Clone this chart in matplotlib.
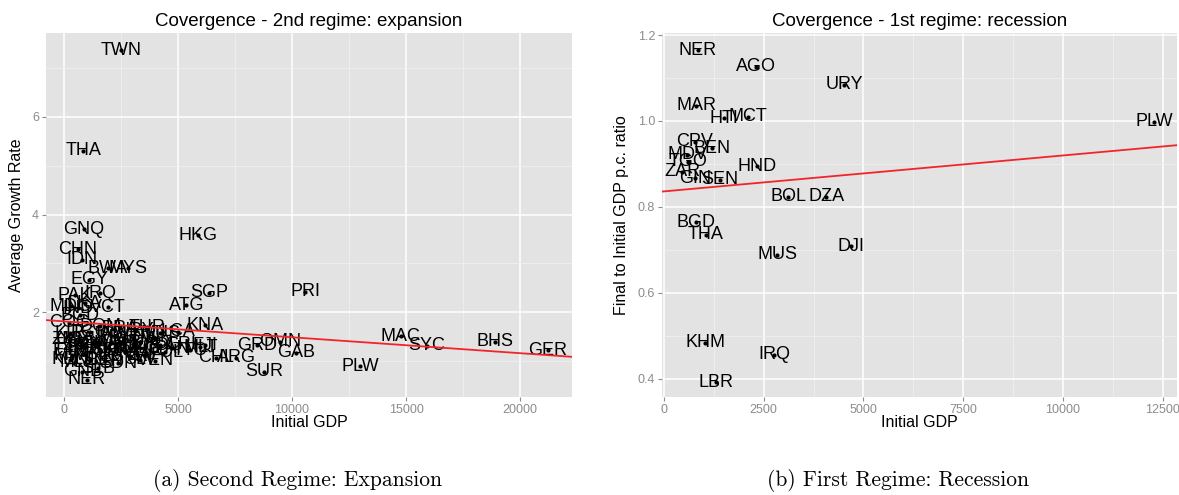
#!/usr/bin/env python3
# -*- coding: utf-8 -*-
"""
收敛性散点图：两个体制（扩张 / 衰退）并排，ggplot 风格
"""

import numpy as np
import matplotlib
matplotlib.use("Agg")
import matplotlib.pyplot as plt
from matplotlib.ticker import FixedLocator, FixedFormatter

plt.rcParams["font.family"] = ["Liberation Sans", "DejaVu Sans"]

# ---------------- 数据：第二体制（扩张） ----------------
exp_codes = [
    "TWN", "THA", "GNQ", "HKG", "CHN", "IDN", "BWA", "MYS", "EGY", "PAK",
    "IRQ", "SGP", "ATG", "PRI", "MDG", "IND", "VCT", "LKA", "BGD", "COG",
    "KIR", "TUR", "BRA", "URY", "DOM", "TGO", "LCA", "KNA", "JAM", "MUS",
    "TZA", "UGA", "ETH", "BFA", "MWI", "NPL", "GHA", "SEN", "CMR", "BOL",
    "PER", "ECU", "COL", "PAN", "CRI", "TTO", "MLT", "FJI", "POL", "ZAF",
    "PRY", "HND", "GTM", "NIC", "PHL", "SYR", "MAR", "TUN", "JOR", "GUY",
    "ZMB", "KEN", "MLI", "LSO", "BEN", "SDN", "SLV", "VEN", "GNB", "SLB",
    "NER", "CHL", "ARG", "GRD", "OMN", "GAB", "SUR", "PLW", "MAC", "SYC",
    "BHS", "GER",
]
exp_gdp = [
    2500, 840, 880, 5890, 615, 790, 1930, 2810, 1100, 480,
    1580, 6370, 5360, 10590, 300, 615, 1930, 920, 700, 240,
    260, 3650, 2460, 3120, 1580, 1140, 5010, 6200, 2020, 4220,
    250, 480, 280, 920, 350, 1140, 1580, 2020, 2460, 2900,
    3340, 3780, 4220, 4745, 5100, 5540, 5980, 6200, 4440, 3560,
    2680, 2240, 3120, 1800, 1360, 2900, 2370, 4000, 3560, 790,
    260, 250, 480, 1140, 1800, 2370, 3340, 4000, 800, 1500,
    1010, 6650, 7550, 8480, 9490, 10190, 8790, 13000, 14760, 15910,
    18890, 21230,
]
exp_growth = [
    7.37, 5.31, 3.70, 3.58, 3.29, 3.07, 2.90, 2.90, 2.66, 2.35,
    2.39, 2.40, 2.14, 2.42, 2.12, 2.08, 2.10, 2.18, 1.94, 1.78,
    1.57, 1.69, 1.67, 1.63, 1.71, 1.59, 1.60, 1.73, 1.55, 1.57,
    1.32, 1.43, 1.22, 1.28, 1.12, 1.18, 1.36, 1.22, 1.38, 1.26,
    1.36, 1.22, 1.32, 1.26, 1.34, 1.22, 1.28, 1.32, 1.18, 1.12,
    1.18, 1.28, 1.43, 1.10, 1.32, 1.10, 1.47, 1.47, 1.32, 1.36,
    1.43, 1.02, 0.97, 1.02, 1.00, 0.95, 1.02, 1.00, 0.78, 0.85,
    0.61, 1.06, 1.06, 1.32, 1.39, 1.17, 0.78, 0.89, 1.51, 1.31,
    1.39, 1.22,
]
exp_fit = (1.81, -3.26e-5)   # 截距, 斜率

# ---------------- 数据：第一体制（衰退） ----------------
rec_codes = [
    "NER", "AGO", "URY", "MAR", "HTI", "MCT", "CPV", "BEN", "MDV", "ZAR",
    "TGO", "GIN", "SEN", "HND", "BOL", "DZA", "BGD", "THA", "MUS", "DJI",
    "KHM", "IRQ", "LBR", "PLW",
]
rec_gdp = [
    853, 2295, 4515, 803, 1505, 2107, 777, 1204, 577, 451,
    600, 777, 1404, 2333, 3110, 4063, 803, 1053, 2834, 4690,
    1028, 2770, 1300, 12286,
]
rec_ratio = [
    1.165, 1.126, 1.084, 1.035, 1.006, 1.010, 0.952, 0.937, 0.921, 0.882,
    0.905, 0.867, 0.863, 0.894, 0.824, 0.824, 0.764, 0.735, 0.688, 0.708,
    0.483, 0.456, 0.391, 0.998,
]
rec_fit = (0.836, 8.37e-6)

# ---------------- 样式 ----------------
W, H = 1179, 495
BG = "#E3E3E3"
TICK_COLOR = "#8C8C8C"


def style_axes(ax, xmaj, xmin, ymaj, ymin, yfmt):
    ax.set_facecolor(BG)
    for s in ax.spines.values():
        s.set_visible(False)
    ax.xaxis.set_major_locator(FixedLocator(xmaj))
    ax.xaxis.set_major_formatter(FixedFormatter([str(v) for v in xmaj]))
    ax.yaxis.set_major_locator(FixedLocator(ymaj))
    ax.yaxis.set_major_formatter(FixedFormatter([yfmt.format(v) for v in ymaj]))
    ax.xaxis.set_minor_locator(FixedLocator(xmin))
    ax.yaxis.set_minor_locator(FixedLocator(ymin))
    ax.grid(True, which="major", color="white", linewidth=1.1, zorder=0)
    ax.grid(True, which="minor", color="#F0F0F0", linewidth=0.6, zorder=0)
    ax.set_axisbelow(True)
    ax.tick_params(which="major", length=3, width=0.8, color=TICK_COLOR,
                   labelcolor=TICK_COLOR, labelsize=9, pad=2)
    ax.tick_params(which="minor", length=0)


def draw_panel(ax, codes, xs, ys, fit):
    ax.scatter(xs, ys, s=9, color="black", zorder=3, linewidths=0)
    for c, x, y in zip(codes, xs, ys):
        ax.text(x, y, c, ha="center", va="center", fontsize=13,
                color="black", zorder=4)
    xl = np.array(ax.get_xlim())
    ax.plot(xl, fit[0] + fit[1] * xl, color="#F2242B", linewidth=1.3,
            zorder=5)


fig = plt.figure(figsize=(W / 100, H / 100), dpi=100)
fig.patch.set_facecolor("white")

# 左图
ax1 = fig.add_axes([46 / W, 1 - 397 / H, (572 - 46) / W, (397 - 33) / H])
ax1.set_xlim(-790, 22280)
ax1.set_ylim(0.26, 7.72)
style_axes(ax1, [0, 5000, 10000, 15000, 20000], [2500, 7500, 12500, 17500],
           [2, 4, 6], [1, 3, 5, 7], "{:g}")
draw_panel(ax1, exp_codes, exp_gdp, exp_growth, exp_fit)
ax1.set_title("Covergence - 2nd regime: expansion", fontsize=13.5, pad=5)
ax1.set_xlabel("Initial GDP", fontsize=11.5)
ax1.set_ylabel("Average Growth Rate", fontsize=11.5)
ax1.xaxis.set_label_coords(0.5, -0.05)
ax1.yaxis.set_label_coords(-0.042, 0.5)

# 右图
ax2 = fig.add_axes([662 / W, 1 - 397 / H, (1177 - 662) / W, (397 - 33) / H])
ax2.set_xlim(-50, 12860)
ax2.set_ylim(0.357, 1.205)
style_axes(ax2, [0, 2500, 5000, 7500, 10000, 12500],
           [1250, 3750, 6250, 8750, 11250],
           [0.4, 0.6, 0.8, 1.0, 1.2], [0.5, 0.7, 0.9, 1.1], "{:.1f}")
draw_panel(ax2, rec_codes, rec_gdp, rec_ratio, rec_fit)
ax2.set_title("Covergence - 1st regime: recession", fontsize=13.5, pad=5)
ax2.set_xlabel("Initial GDP", fontsize=11.5)
ax2.set_ylabel("Final to Initial GDP p.c. ratio", fontsize=11.5)
ax2.xaxis.set_label_coords(0.5, -0.05)
ax2.yaxis.set_label_coords(-0.064, 0.5)

# 子图标题（LaTeX 风格衬线体）
fig.text(298 / W, 1 - 481 / H, "(a) Second Regime: Expansion",
         family="cmr10", fontsize=15.5, ha="center", va="center")
fig.text(898 / W, 1 - 481 / H, "(b) First Regime: Recession",
         family="cmr10", fontsize=15.5, ha="center", va="center")

fig.savefig("out.png", dpi=100)
plt.close(fig)
